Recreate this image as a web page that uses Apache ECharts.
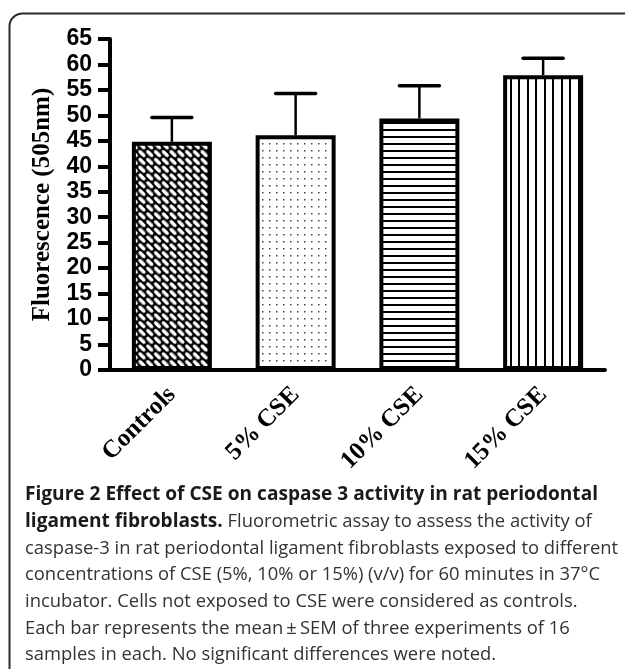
<!DOCTYPE html>
<html><head><meta charset="utf-8">
<script src="https://cdn.jsdelivr.net/npm/echarts@6/dist/echarts.min.js"></script>
<style>html,body{margin:0;padding:0;background:#fff}#c{width:625px;height:669px}</style>
</head><body><div id="c"></div>
<script>
// ---- data ----
const categories = ['Controls', '5% CSE', '10% CSE', '15% CSE'];
const means = [44.8, 46.1, 49.4, 57.9];
const sems = [4.8, 8.2, 6.4, 3.3];
const yMin = 0, yMax = 65, yInterval = 5;
const yAxisTitle = 'Fluorescence (505nm)';
const captionLines = [
  [['b', 'Figure 2 Effect of CSE on caspase 3 activity in rat periodontal']],
  [['b', 'ligament fibroblasts.'], ['n', ' Fluorometric assay to assess the activity of']],
  [['n', 'caspase-3 in rat periodontal ligament fibroblasts exposed to different']],
  [['n', 'concentrations of CSE (5%, 10% or 15%) (v/v) for 60 minutes in 37°C']],
  [['n', 'incubator. Cells not exposed to CSE were considered as controls.']],
  [['n', 'Each bar represents the mean\u2009±\u2009SEM of three experiments of 16']],
  [['n', 'samples in each. No significant differences were noted.']]
];

// ---- pattern tiles ----
function tile(w, h, draw) {
  const c = document.createElement('canvas'); c.width = w; c.height = h;
  const g = c.getContext('2d'); draw(g, w, h); return c;
}
const brick = tile(11, 11, (g) => {
  g.fillStyle = '#000'; g.fillRect(0, 0, 11, 11);
  g.fillStyle = '#fff';
  [[5.5, 2.75], [0, 8.25], [11, 8.25]].forEach(([cx, cy]) => {
    g.beginPath(); g.roundRect(cx - 4.4, cy - 1.85, 8.8, 3.7, 1.8); g.fill();
  });
});
const dots = tile(7, 7, (g) => {
  g.fillStyle = '#fff'; g.fillRect(0, 0, 7, 7);
  g.fillStyle = '#444'; g.fillRect(3, 3, 1.5, 1.5);
});
const hlines = tile(4, 7, (g) => {
  g.fillStyle = '#fff'; g.fillRect(0, 0, 4, 7);
  g.fillStyle = '#000'; g.fillRect(0, 3, 4, 2);
});
const vlines = tile(17, 4, (g) => {
  g.fillStyle = '#fff'; g.fillRect(0, 0, 17, 4);
  g.fillStyle = '#000'; g.fillRect(0, 0, 2, 4); g.fillRect(8, 0, 2, 4);
});
const fills = [
  { image: brick, repeat: 'repeat', rotation: Math.PI / 4 },
  { image: dots, repeat: 'repeat' },
  { image: hlines, repeat: 'repeat' },
  { image: vlines, repeat: 'repeat' }
];

// ---- caption font sizing ----
const capFont = '"Open Sans"';
const mctx = document.createElement('canvas').getContext('2d');
mctx.font = '100px ' + capFont;
const capSize = Math.round(100 * 592 / mctx.measureText(captionLines[2][0][1]).width * 10) / 10;
const capBoldSize = Math.round(capSize * 1.04 * 10) / 10;

const chart = echarts.init(document.getElementById('c'));
const captionGraphics = captionLines.map((parts, i) => ({
  type: 'text',
  x: 25, y: 495 + i * 26.7,
  style: {
    text: parts.map(p => '{' + p[0] + '|' + p[1] + '}').join(''),
    verticalAlign: 'middle',
    rich: {
      b: { fontFamily: capFont, fontSize: capBoldSize, fontWeight: 'bold', fill: '#1a1a1a', color: '#1a1a1a' },
      n: { fontFamily: capFont, fontSize: capSize, fontWeight: 'normal', fill: '#333', color: '#333' }
    }
  }
}));

chart.setOption({
  animation: false,
  grid: { left: 110, right: 20, top: 39, bottom: 299 },
  graphic: [
    { type: 'rect', shape: { x: 9.5, y: 13.5, width: 700, height: 700, r: 13 },
      style: { fill: 'none', stroke: '#2a2a2a', lineWidth: 2 } }
  ].concat(captionGraphics),
  xAxis: {
    type: 'category', data: categories,
    axisLine: { lineStyle: { color: '#000', width: 4 } },
    axisTick: { alignWithLabel: true, length: 10, lineStyle: { color: '#000', width: 4 } },
    axisLabel: { rotate: 45, margin: 21, fontFamily: 'Liberation Serif', fontWeight: 'bold', fontSize: 25, color: '#000' }
  },
  yAxis: {
    type: 'value', min: yMin, max: yMax, interval: yInterval,
    splitLine: { show: false },
    axisLine: { show: true, lineStyle: { color: '#000', width: 4 } },
    axisTick: { show: true, length: 12, lineStyle: { color: '#000', width: 4 } },
    axisLabel: { margin: 18, fontFamily: 'Liberation Sans', fontWeight: 'bold', fontSize: 23, color: '#000' },
    name: yAxisTitle, nameLocation: 'middle', nameGap: 54,
    nameTextStyle: { fontFamily: 'Liberation Serif', fontWeight: 'bold', fontSize: 25, color: '#000' }
  },
  series: [
    {
      type: 'custom', z: 1,
      renderItem: (params, api) => {
        const i = api.value(0), m = api.value(1), u = api.value(2);
        const p0 = api.coord([i, m]), p1 = api.coord([i, u]);
        return { type: 'group', children: [
          { type: 'line', shape: { x1: p0[0], y1: p0[1], x2: p1[0], y2: p1[1] }, style: { stroke: '#000', lineWidth: 2.5 } },
          { type: 'line', shape: { x1: p1[0] - 20, y1: p1[1], x2: p1[0] + 20, y2: p1[1] }, style: { stroke: '#000', lineWidth: 3.5, lineCap: 'round' } }
        ] };
      },
      data: categories.map((c, i) => [i, means[i], means[i] + sems[i]])
    },
    {
      type: 'bar', z: 2, barWidth: 80,
      data: means.map((v, i) => ({ value: v, itemStyle: { color: fills[i], borderColor: '#000', borderWidth: 4 } }))
    }
  ]
});
</script></body></html>
